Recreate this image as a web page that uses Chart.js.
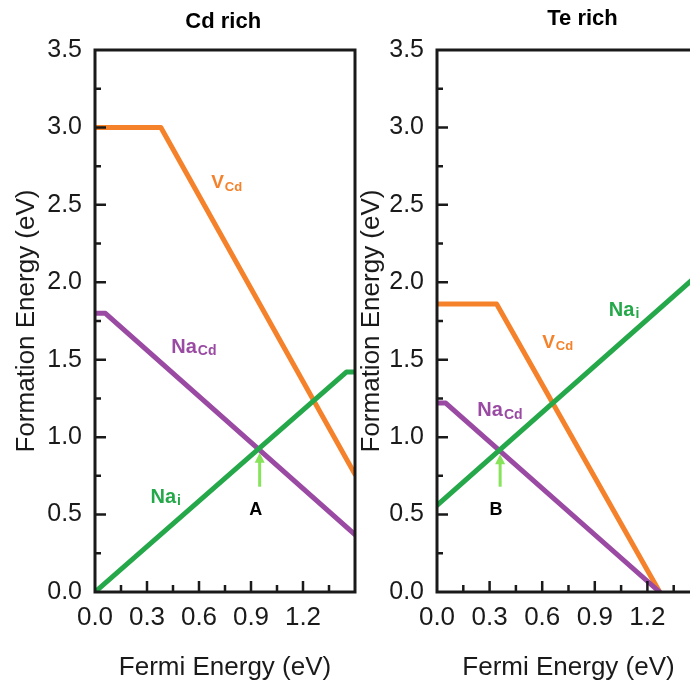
<!DOCTYPE html>
<html lang="en">
<head>
<meta charset="UTF-8">
<title>Formation energy vs Fermi energy</title>
<style>
  html, body { margin: 0; padding: 0; background: #fff; overflow: hidden; width: 690px; height: 684px; }
  .panel { position: absolute; top: 0; }
  #cdWrap { left: 0; }
  #teWrap { left: 345px; }
</style>
<script src="https://cdn.jsdelivr.net/npm/chart.js"></script>
</head>
<body>
<div class="panel" id="cdWrap"><canvas id="cdChart" width="365" height="684"></canvas></div>
<div class="panel" id="teWrap"><canvas id="teChart" width="365" height="684"></canvas></div>
<script>
// tick labels (Fermi energy / formation energy, eV)
const xTickLabels = ['0.0', '0.3', '0.6', '0.9', '1.2'];
const yTickLabels = ['0.0', '0.5', '1.0', '1.5', '2.0', '2.5', '3.0', '3.5'];

// Cd rich
const cdVcdX = [0, 0.38, 1.5];
const cdVcdY = [3.0, 3.0, 0.76];
const cdNaCdX = [0, 0.06, 1.5];
const cdNaCdY = [1.8, 1.8, 0.37];
const cdNaiX = [0, 1.45, 1.5];
const cdNaiY = [0, 1.42, 1.42];

// Te rich
const teVcdX = [0, 0.34, 1.27];
const teVcdY = [1.86, 1.86, 0];
const teNaCdX = [0, 0.05, 1.27];
const teNaCdY = [1.22, 1.22, 0];
const teNaiX = [0, 1.5];
const teNaiY = [0.56, 2.06];

// arrows marking the crossing points
const cdArrow = { x: 0.95, from: 0.68, to: 0.9, text: 'A' };
const teArrow = { x: 0.36, from: 0.68, to: 0.89, text: 'B' };

const FONT = "'Liberation Sans', Arial, sans-serif";
const orange = '#F5822A';
const purple = '#9A4AA3';
const green = '#25A84A';
const arrowGreen = '#86E35A';
const ink = '#1a1a1a';

function pts(xs, ys) {
  return xs.map((x, i) => ({ x: x, y: ys[i] }));
}

// frame, inward ticks, curve labels, arrow, panel title
const decor = {
  id: 'decor',
  afterDraw(chart, args, opts) {
    const ctx = chart.ctx;
    const a = chart.chartArea;
    const sx = chart.scales.x, sy = chart.scales.y;
    ctx.save();

    ctx.strokeStyle = ink;
    ctx.lineWidth = 2.5;
    ctx.beginPath();
    for (let i = 1; i < 10; i++) {
      const px = sx.getPixelForValue(i * 0.15);
      const len = i % 2 == 0 ? 11 : 7;
      ctx.moveTo(px, a.bottom);
      ctx.lineTo(px, a.bottom - len);
    }
    for (let i = 1; i < 14; i++) {
      const py = sy.getPixelForValue(i * 0.25);
      const len = i % 2 == 0 ? 11 : 6;
      ctx.moveTo(a.left, py);
      ctx.lineTo(a.left + len, py);
    }
    ctx.stroke();

    ctx.lineWidth = 3;
    ctx.strokeRect(a.left, a.top, a.right - a.left, a.bottom - a.top);

    // labels with subscripts
    ctx.textBaseline = 'middle';
    ctx.textAlign = 'left';
    opts.labels.forEach(l => {
      const px = sx.getPixelForValue(l.x);
      const py = sy.getPixelForValue(l.y);
      ctx.fillStyle = l.color;
      ctx.font = 'bold ' + l.size + 'px ' + FONT;
      ctx.fillText(l.main, px, py);
      const w = ctx.measureText(l.main).width;
      ctx.font = 'bold ' + (l.size - 6) + 'px ' + FONT;
      ctx.fillText(l.sub, px + w + 1, py + 4);
    });

    // arrow
    const ar = opts.arrow;
    const ax = sx.getPixelForValue(ar.x);
    const y0 = sy.getPixelForValue(ar.from);
    const y1 = sy.getPixelForValue(ar.to);
    ctx.strokeStyle = arrowGreen;
    ctx.fillStyle = arrowGreen;
    ctx.lineWidth = 3;
    ctx.beginPath();
    ctx.moveTo(ax, y0);
    ctx.lineTo(ax, y1 + 8);
    ctx.stroke();
    ctx.beginPath();
    ctx.moveTo(ax, y1);
    ctx.lineTo(ax - 5, y1 + 10);
    ctx.lineTo(ax + 5, y1 + 10);
    ctx.closePath();
    ctx.fill();
    ctx.fillStyle = '#000';
    ctx.textAlign = 'center';
    ctx.font = 'bold 18px ' + FONT;
    ctx.fillText(ar.text, ax - 4, sy.getPixelForValue(0.53));

    // panel title
    ctx.font = 'bold 22px ' + FONT;
    ctx.fillText(opts.title, sx.getPixelForValue(opts.titleX), opts.titleY);
    ctx.restore();
  }
};

function makeChart(id, datasets, yWidth, decorOpts) {
  new Chart(document.getElementById(id), {
    type: 'line',
    data: { datasets: datasets },
    plugins: [decor],
    options: {
      responsive: false,
      animation: false,
      devicePixelRatio: 1,
      layout: { padding: { top: 50, right: 10, left: 0, bottom: 0 } },
      elements: { point: { radius: 0 }, line: { borderWidth: 5, tension: 0, borderJoinStyle: 'round', borderCapStyle: 'round' } },
      plugins: { legend: { display: false }, tooltip: { enabled: false }, decor: decorOpts },
      scales: {
        x: {
          type: 'linear', min: 0, max: 1.5,
          afterBuildTicks: s => { s.ticks = xTickLabels.map(t => ({ value: parseFloat(t) })); },
          afterFit: s => { s.height = 684 - 592; },
          ticks: { callback: (v, i) => xTickLabels[i], font: { family: FONT, size: 26 }, color: ink, padding: 10, maxRotation: 0, autoSkip: false },
          grid: { display: false, drawTicks: false },
          border: { display: false },
          title: { display: true, text: 'Fermi Energy (eV)', font: { family: FONT, size: 26 }, color: ink, padding: { top: 0, bottom: 1 } }
        },
        y: {
          type: 'linear', min: 0, max: 3.5,
          afterBuildTicks: s => { s.ticks = yTickLabels.map(t => ({ value: parseFloat(t) })); },
          afterFit: s => { s.width = yWidth; },
          ticks: { callback: (v, i) => yTickLabels[i], font: { family: FONT, size: 25 }, color: ink, padding: 13, autoSkip: false },
          grid: { display: false, drawTicks: false },
          border: { display: false },
          title: { display: true, text: 'Formation Energy (eV)', font: { family: FONT, size: 26 }, color: ink, padding: { top: 11, bottom: 0 } }
        }
      }
    }
  });
}

function series(vx, vy, nx, ny, ix, iy) {
  return [
    { label: 'Na_i', data: pts(ix, iy), borderColor: green },
    { label: 'Na_Cd', data: pts(nx, ny), borderColor: purple },
    { label: 'V_Cd', data: pts(vx, vy), borderColor: orange }
  ];
}

makeChart('cdChart', series(cdVcdX, cdVcdY, cdNaCdX, cdNaCdY, cdNaiX, cdNaiY), 95, {
  title: 'Cd rich', titleX: 0.74, titleY: 22,
  arrow: cdArrow,
  labels: [
    { main: 'V', sub: 'Cd', x: 0.67, y: 2.64, color: orange, size: 19 },
    { main: 'Na', sub: 'Cd', x: 0.44, y: 1.58, color: purple, size: 20 },
    { main: 'Na', sub: 'i', x: 0.32, y: 0.61, color: green, size: 20 }
  ]
});

makeChart('teChart', series(teVcdX, teVcdY, teNaCdX, teNaCdY, teNaiX, teNaiY), 92, {
  title: 'Te rich', titleX: 0.83, titleY: 19,
  arrow: teArrow,
  labels: [
    { main: 'V', sub: 'Cd', x: 0.6, y: 1.61, color: orange, size: 19 },
    { main: 'Na', sub: 'Cd', x: 0.23, y: 1.17, color: purple, size: 20 },
    { main: 'Na', sub: 'i', x: 0.98, y: 1.82, color: green, size: 20 }
  ]
});
</script>
</body>
</html>
